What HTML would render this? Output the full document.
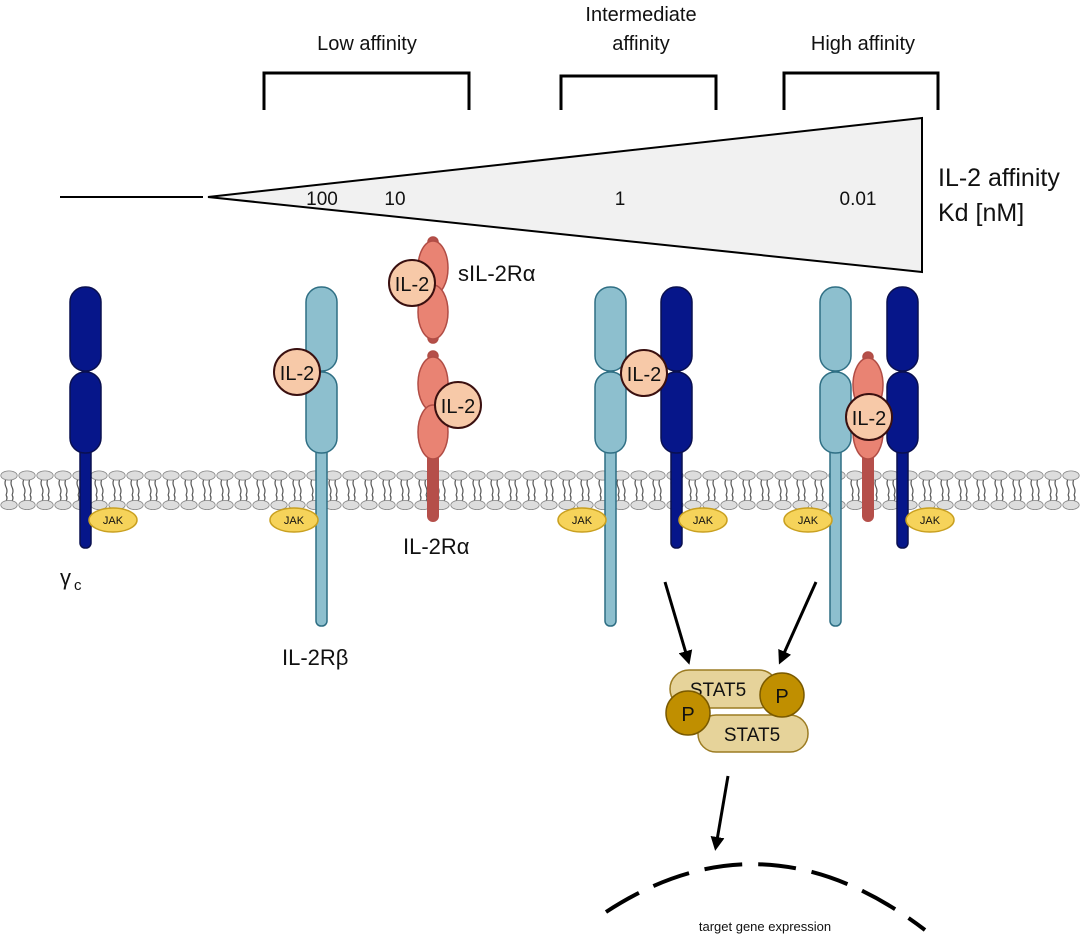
<!DOCTYPE html>
<html><head><meta charset="utf-8"><style>
html,body{margin:0;padding:0;background:#fff;}
svg{display:block;}
text{font-family:"Liberation Sans","DejaVu Sans",sans-serif;fill:#111;}
</style></head><body>
<svg width="1080" height="938" viewBox="0 0 1080 938" xmlns="http://www.w3.org/2000/svg">
<defs>
<pattern id="lip" x="0" y="466" width="18" height="48" patternUnits="userSpaceOnUse">
 <g stroke="#555" stroke-width="1.2" fill="none">
  <path d="M6 13 q-2 4 0 8 q2 4 0 8 M12 13 q-2 4 0 8 q2 4 0 8"/>
  <path d="M6 29 q2 3 0 6 M12 29 q2 3 0 6"/>
 </g>
 <ellipse cx="9" cy="9.5" rx="8.2" ry="4.6" fill="#ddd" stroke="#888" stroke-width="0.8"/>
 <ellipse cx="9" cy="39" rx="8.2" ry="4.6" fill="#ddd" stroke="#888" stroke-width="0.8"/>
</pattern>
<marker id="ar" markerWidth="14" markerHeight="14" refX="9" refY="7" orient="auto" markerUnits="userSpaceOnUse" viewBox="0 0 14 14">
 <path d="M0 0 L14 7 L0 14 z" fill="#000"/>
</marker>
</defs>

<!-- titles -->
<text x="367" y="50" font-size="20" text-anchor="middle">Low affinity</text>
<text x="641" y="21" font-size="20" text-anchor="middle">Intermediate</text>
<text x="641" y="50" font-size="20" text-anchor="middle">affinity</text>
<text x="863" y="50" font-size="20" text-anchor="middle">High affinity</text>
<g stroke="#000" stroke-width="3" fill="none">
<path d="M264 110 V73 H469 V110"/>
<path d="M561 110 V76 H716 V110"/>
<path d="M784 110 V73 H938 V110"/>
</g>

<!-- triangle -->
<line x1="60" y1="197" x2="203" y2="197" stroke="#000" stroke-width="2"/>
<polygon points="208,197 922,118 922,272" fill="#f1f1f1" stroke="#000" stroke-width="2"/>
<text x="322" y="205" font-size="19" text-anchor="middle">100</text>
<text x="395" y="205" font-size="19" text-anchor="middle">10</text>
<text x="620" y="205" font-size="19" text-anchor="middle">1</text>
<text x="858" y="205" font-size="19" text-anchor="middle">0.01</text>
<text x="938" y="186" font-size="25">IL-2 affinity</text>
<text x="938" y="221" font-size="25">Kd [nM]</text>

<!-- membrane -->
<rect x="0" y="466" width="1080" height="48" fill="url(#lip)"/>

<!-- gamma c -->
<g fill="#06168a" stroke="#0a1050" stroke-width="1.5">
<rect x="80" y="440" width="11" height="108" rx="5"/>
<rect x="70" y="287" width="31" height="84" rx="15"/>
<rect x="70" y="372" width="31" height="81" rx="15"/>
</g>
<ellipse cx="113" cy="520" rx="24" ry="12" fill="#f6d35a" stroke="#c9a020" stroke-width="1.5"/>
<text x="113" y="524" font-size="11" text-anchor="middle">JAK</text>
<text x="60" y="585" font-size="22">γ</text><text x="74" y="590" font-size="15">c</text>

<!-- IL-2Rb left -->
<g fill="#8dbfce" stroke="#2f6f84" stroke-width="1.5">
<rect x="316" y="440" width="11" height="186" rx="5"/>
<rect x="306" y="287" width="31" height="84" rx="15"/>
<rect x="306" y="372" width="31" height="81" rx="15"/>
</g>
<ellipse cx="294" cy="520" rx="24" ry="12" fill="#f6d35a" stroke="#c9a020" stroke-width="1.5"/>
<text x="294" y="524" font-size="11" text-anchor="middle">JAK</text>
<circle cx="297" cy="372" r="23" fill="#f7c9a8" stroke="#3a1010" stroke-width="2"/>
<text x="297" y="380" font-size="20" text-anchor="middle">IL-2</text>
<text x="282" y="665" font-size="22">IL-2Rβ</text>

<!-- sIL-2Ra -->
<g fill="#e98373" stroke="#b14d45" stroke-width="1.5">
<circle cx="433" cy="242" r="5" fill="#b54f4a"/>
<circle cx="433" cy="338" r="5" fill="#b54f4a"/>
<ellipse cx="433" cy="268" rx="15" ry="27"/>
<ellipse cx="433" cy="312" rx="15" ry="27"/>
</g>
<circle cx="412" cy="283" r="23" fill="#f7c9a8" stroke="#3a1010" stroke-width="2"/>
<text x="412" y="291" font-size="20" text-anchor="middle">IL-2</text>
<text x="458" y="281" font-size="22">sIL-2Rα</text>

<!-- IL-2Ra membrane -->
<rect x="427" y="450" width="12" height="72" rx="6" fill="#b54f4a"/>
<g fill="#e98373" stroke="#b14d45" stroke-width="1.5">
<circle cx="433" cy="356" r="5" fill="#b54f4a"/>
<ellipse cx="433" cy="384" rx="15" ry="27"/>
<ellipse cx="433" cy="432" rx="15" ry="27"/>
</g>
<circle cx="458" cy="405" r="23" fill="#f7c9a8" stroke="#3a1010" stroke-width="2"/>
<text x="458" y="413" font-size="20" text-anchor="middle">IL-2</text>
<text x="403" y="554" font-size="22">IL-2Rα</text>

<!-- intermediate -->
<g fill="#8dbfce" stroke="#2f6f84" stroke-width="1.5">
<rect x="605" y="440" width="11" height="186" rx="5"/>
<rect x="595" y="287" width="31" height="84" rx="15"/>
<rect x="595" y="372" width="31" height="81" rx="15"/>
</g>
<g fill="#06168a" stroke="#0a1050" stroke-width="1.5">
<rect x="671" y="440" width="11" height="108" rx="5"/>
<rect x="661" y="287" width="31" height="84" rx="15"/>
<rect x="661" y="372" width="31" height="81" rx="15"/>
</g>
<circle cx="644" cy="373" r="23" fill="#f7c9a8" stroke="#3a1010" stroke-width="2"/>
<text x="644" y="381" font-size="20" text-anchor="middle">IL-2</text>
<ellipse cx="582" cy="520" rx="24" ry="12" fill="#f6d35a" stroke="#c9a020" stroke-width="1.5"/>
<text x="582" y="524" font-size="11" text-anchor="middle">JAK</text>
<ellipse cx="703" cy="520" rx="24" ry="12" fill="#f6d35a" stroke="#c9a020" stroke-width="1.5"/>
<text x="703" y="524" font-size="11" text-anchor="middle">JAK</text>

<!-- high -->
<g fill="#8dbfce" stroke="#2f6f84" stroke-width="1.5">
<rect x="830" y="440" width="11" height="186" rx="5"/>
<rect x="820" y="287" width="31" height="84" rx="15"/>
<rect x="820" y="372" width="31" height="81" rx="15"/>
</g>
<g fill="#06168a" stroke="#0a1050" stroke-width="1.5">
<rect x="897" y="440" width="11" height="108" rx="5"/>
<rect x="887" y="287" width="31" height="84" rx="15"/>
<rect x="887" y="372" width="31" height="81" rx="15"/>
</g>
<rect x="862" y="450" width="12" height="72" rx="6" fill="#b54f4a"/>
<g fill="#e98373" stroke="#b14d45" stroke-width="1.5">
<circle cx="868" cy="357" r="5" fill="#b54f4a"/>
<ellipse cx="868" cy="385" rx="15" ry="27"/>
<ellipse cx="868" cy="432" rx="15" ry="27"/>
</g>
<circle cx="869" cy="417" r="23" fill="#f7c9a8" stroke="#3a1010" stroke-width="2"/>
<text x="869" y="425" font-size="20" text-anchor="middle">IL-2</text>
<ellipse cx="808" cy="520" rx="24" ry="12" fill="#f6d35a" stroke="#c9a020" stroke-width="1.5"/>
<text x="808" y="524" font-size="11" text-anchor="middle">JAK</text>
<ellipse cx="930" cy="520" rx="24" ry="12" fill="#f6d35a" stroke="#c9a020" stroke-width="1.5"/>
<text x="930" y="524" font-size="11" text-anchor="middle">JAK</text>

<!-- arrows -->
<g stroke="#000" stroke-width="3" fill="none" marker-end="url(#ar)">
<line x1="665" y1="582" x2="688" y2="660"/>
<line x1="816" y1="582" x2="781" y2="660"/>
<line x1="728" y1="776" x2="716" y2="846"/>
</g>

<!-- STAT5 -->
<rect x="670" y="670" width="108" height="38" rx="19" fill="#e6d39a" stroke="#9c7c23" stroke-width="1.5"/>
<text x="718" y="696" font-size="19" text-anchor="middle">STAT5</text>
<rect x="698" y="715" width="110" height="37" rx="18" fill="#e6d39a" stroke="#9c7c23" stroke-width="1.5"/>
<text x="752" y="741" font-size="19" text-anchor="middle">STAT5</text>
<circle cx="782" cy="695" r="22" fill="#c08f00" stroke="#7a5a00" stroke-width="1.5"/>
<text x="782" y="703" font-size="20" text-anchor="middle">P</text>
<circle cx="688" cy="713" r="22" fill="#c08f00" stroke="#7a5a00" stroke-width="1.5"/>
<text x="688" y="721" font-size="20" text-anchor="middle">P</text>

<!-- nucleus -->
<path d="M606 912 Q765 808 925 930" stroke="#000" stroke-width="4" fill="none" stroke-dasharray="38,16"/>
<text x="765" y="931" font-size="13" text-anchor="middle">target gene expression</text>
</svg>
</body></html>
